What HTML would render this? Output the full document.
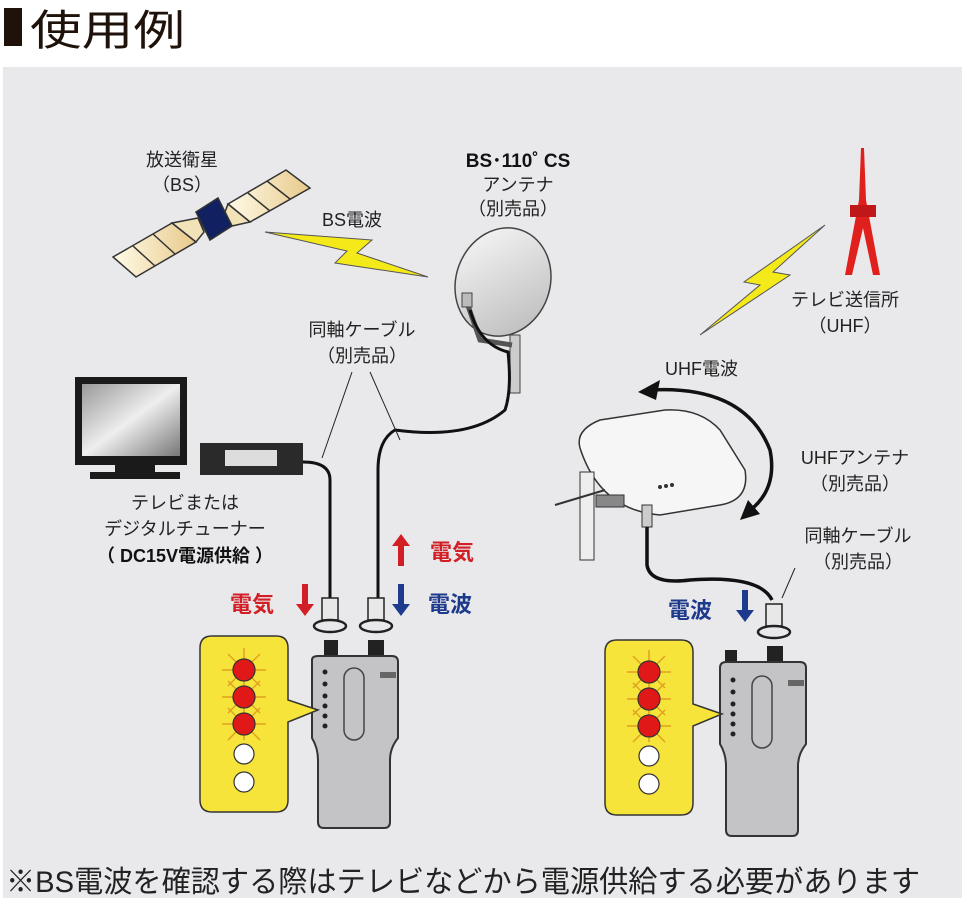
<!DOCTYPE html>
<html><head><meta charset="utf-8"><style>
html,body{margin:0;padding:0;background:#fff;}
svg{display:block;font-family:"Liberation Sans","Noto Sans CJK JP",sans-serif;}
</style></head><body>
<svg width="965" height="900" viewBox="0 0 965 900" xmlns="http://www.w3.org/2000/svg">
<defs>
<linearGradient id="pg" x1="0" y1="0" x2="1" y2="0"><stop offset="0" stop-color="#fffbe8"/><stop offset="1" stop-color="#e8c98a"/></linearGradient>
<linearGradient id="dg" x1="0" y1="0" x2="1" y2="1"><stop offset="0" stop-color="#fafafa"/><stop offset="1" stop-color="#b8b8b8"/></linearGradient>
<linearGradient id="tvg" x1="0" y1="0" x2="1" y2="1"><stop offset="0" stop-color="#999"/><stop offset="0.5" stop-color="#eee"/><stop offset="1" stop-color="#777"/></linearGradient>
</defs>
<rect x="4" y="8" width="18" height="38" fill="#1e120a"/>
<text x="30" y="45" font-size="42" textLength="155" lengthAdjust="spacingAndGlyphs" fill="#1e120a">使用例</text>
<rect x="3" y="67" width="959" height="831" fill="#e9e9ec"/>

<!-- satellite -->
<text x="182" y="166" font-size="18" text-anchor="middle" fill="#222">放送衛星</text>
<text x="182" y="191" font-size="18" text-anchor="middle" fill="#222">（BS）</text>
<g stroke="#333" stroke-width="1.5">
<polygon points="113,257 172,223 196,242 136,277" fill="url(#pg)"/>
<line x1="133" y1="246" x2="155" y2="266" /><line x1="153" y1="234" x2="175" y2="254"/>
<polygon points="228,204 286,170 310,188 250,222" fill="url(#pg)"/>
<line x1="248" y1="193" x2="270" y2="211"/><line x1="267" y1="181" x2="290" y2="199"/>
<polygon points="172,223 198,218 204,232 196,242" fill="#f2e2b8"/>
<polygon points="225,212 228,204 250,222 232,226" fill="#f2e2b8"/>
<polygon points="196,212 218,198 232,226 210,240" fill="#102060"/>
</g>
<text x="322" y="226" font-size="18" fill="#222">BS電波</text>
<polygon points="265,232 372,240 357,253 428,277 335,263 347,251" fill="#f4ea1a" stroke="#555" stroke-width="1"/>

<!-- dish -->
<text x="518" y="167" font-size="19" font-weight="bold" text-anchor="middle" fill="#111">BS･110˚ CS</text>
<text x="518" y="191" font-size="18" text-anchor="middle" fill="#222">アンテナ</text>
<text x="513" y="215" font-size="18" text-anchor="middle" fill="#222">（別売品）</text>
<ellipse cx="503" cy="282" rx="47" ry="55" transform="rotate(20 503 282)" fill="url(#dg)" stroke="#444" stroke-width="1.5"/>
<rect x="510" y="335" width="10" height="58" fill="#ccc" stroke="#444"/>
<path d="M466,300 L480,340 L512,345" stroke="#555" stroke-width="5" fill="none"/>
<rect x="462" y="293" width="10" height="14" fill="#bbb" stroke="#444"/>
<path d="M470,310 Q480,345 508,352 Q512,390 505,410 Q470,440 395,430 Q378,440 378,470 L378,600" stroke="#111" stroke-width="3" fill="none"/>

<!-- TV and tuner -->
<rect x="75" y="377" width="112" height="88" fill="#1a1a1a"/>
<rect x="82" y="384" width="98" height="72" fill="url(#tvg)"/>
<rect x="115" y="465" width="40" height="8" fill="#1a1a1a"/>
<rect x="90" y="472" width="90" height="7" fill="#1a1a1a"/>
<rect x="200" y="443" width="103" height="32" fill="#2a2a2a"/>
<rect x="225" y="450" width="52" height="16" fill="#ddd"/>
<path d="M303,462 Q330,462 330,480 L330,600" stroke="#111" stroke-width="3" fill="none"/>
<text x="185" y="509" font-size="18" text-anchor="middle" fill="#222">テレビまたは</text>
<text x="185" y="535" font-size="18" text-anchor="middle" fill="#222">デジタルチューナー</text>
<text x="185" y="562" font-size="18" font-weight="bold" text-anchor="middle" fill="#111">（ DC15V電源供給 ）</text>

<text x="362" y="336" font-size="18" text-anchor="middle" fill="#222">同軸ケーブル</text>
<text x="362" y="362" font-size="18" text-anchor="middle" fill="#222">（別売品）</text>
<path d="M352,372 L322,458 M370,372 L400,440" stroke="#222" stroke-width="1"/>

<!-- arrows and labels left -->
<text x="430" y="560" font-size="22" font-weight="bold" fill="#d21f26">電気</text>
<polygon points="401,534 410,546 404,546 404,566 398,566 398,546 392,546" fill="#d21f26"/>
<text x="428" y="612" font-size="22" font-weight="bold" fill="#1e3a8c">電波</text>
<polygon points="401,616 410,604 404,604 404,584 398,584 398,604 392,604" fill="#1e3a8c"/>
<text x="230" y="612" font-size="22" font-weight="bold" fill="#d21f26">電気</text>
<polygon points="305,616 314,604 308,604 308,584 302,584 302,604 296,604" fill="#d21f26"/>

<!-- left connectors -->
<g stroke="#222" stroke-width="1.5" fill="#e8e8e8">
<rect x="322" y="598" width="16" height="22"/><rect x="368" y="598" width="16" height="22"/>
</g>
<g stroke="#222" stroke-width="2.5" fill="none">
<ellipse cx="330" cy="626" rx="16" ry="6"/><ellipse cx="376" cy="626" rx="16" ry="6"/>
</g>
<rect x="324" y="640" width="14" height="18" fill="#222"/>
<rect x="368" y="640" width="16" height="18" fill="#222"/>

<!-- left device -->
<path d="M312,660 Q312,656 318,656 L392,656 Q398,656 398,662 L398,738 Q390,748 390,760 L390,822 Q390,828 384,828 L324,828 Q318,828 318,822 L318,760 Q318,748 312,738 Z" fill="#c4c4c6" stroke="#333" stroke-width="2"/>
<rect x="344" y="668" width="20" height="72" rx="10" fill="none" stroke="#444" stroke-width="1.5"/>
<g fill="#222"><circle cx="325" cy="672" r="2.5"/><circle cx="325" cy="684" r="2.5"/><circle cx="325" cy="696" r="2.5"/><circle cx="325" cy="706" r="2.5"/><circle cx="325" cy="716" r="2.5"/><circle cx="325" cy="726" r="2.5"/></g>
<rect x="380" y="672" width="16" height="6" fill="#666"/>
<path d="M200,648 Q200,636 212,636 L276,636 Q288,636 288,648 L288,700 L318,710 L288,722 L288,800 Q288,812 276,812 L212,812 Q200,812 200,800 Z" fill="#f6e43a" stroke="#333" stroke-width="1.5"/>
<g stroke="#e0a020" stroke-width="1.5">
<line x1="222" y1="670" x2="266" y2="670"/><line x1="244" y1="648" x2="244" y2="740"/>
<line x1="228" y1="654" x2="260" y2="686"/><line x1="260" y1="654" x2="228" y2="686"/>
<line x1="222" y1="697" x2="266" y2="697"/><line x1="228" y1="681" x2="260" y2="713"/><line x1="260" y1="681" x2="228" y2="713"/>
<line x1="222" y1="724" x2="266" y2="724"/><line x1="228" y1="708" x2="260" y2="740"/><line x1="260" y1="708" x2="228" y2="740"/>
</g>
<g stroke="#333" stroke-width="1.2">
<circle cx="244" cy="670" r="11" fill="#e01818"/><circle cx="244" cy="697" r="11" fill="#e01818"/><circle cx="244" cy="724" r="11" fill="#e01818"/>
<circle cx="244" cy="754" r="10" fill="#fff"/><circle cx="244" cy="782" r="10" fill="#fff"/>
</g>

<!-- tower -->
<polygon points="861,148 864,148 866,200 880,275 873,275 863,228 852,275 845,275 859,200" fill="#e0201c"/>
<rect x="850" y="205" width="26" height="12" fill="#c01818"/>
<text x="845" y="306" font-size="18" text-anchor="middle" fill="#222">テレビ送信所</text>
<text x="845" y="332" font-size="18" text-anchor="middle" fill="#222">（UHF）</text>
<polygon points="825,225 773,272 790,275 700,335 760,285 744,282" fill="#f4ea1a" stroke="#555" stroke-width="1"/>

<text x="665" y="375" font-size="18" fill="#222">UHF電波</text>
<path d="M650,390 Q745,385 770,450 Q778,490 748,512" stroke="#111" stroke-width="3.5" fill="none"/>
<polygon points="638,392 660,380 656,400" fill="#111"/>
<polygon points="740,520 748,500 760,514" fill="#111"/>

<!-- UHF antenna -->
<path d="M580,448 Q575,430 600,420 L665,410 Q700,408 720,430 L745,470 Q750,500 720,505 L660,515 Q600,510 580,448 Z" fill="#f6f6f6" stroke="#333" stroke-width="1.5"/>
<g fill="#333"><circle cx="660" cy="487" r="2"/><circle cx="666" cy="486" r="2"/><circle cx="672" cy="485" r="2"/></g>
<rect x="580" y="472" width="14" height="88" fill="#eee" stroke="#333"/>
<rect x="596" y="495" width="28" height="12" fill="#888" stroke="#333"/>
<line x1="555" y1="505" x2="605" y2="490" stroke="#333" stroke-width="2"/>
<rect x="642" y="505" width="10" height="22" fill="#ccc" stroke="#333"/>
<path d="M647,527 L647,565 Q650,585 690,580 Q760,575 772,600" stroke="#111" stroke-width="3.5" fill="none"/>
<text x="855" y="464" font-size="18" text-anchor="middle" fill="#222">UHFアンテナ</text>
<text x="855" y="490" font-size="18" text-anchor="middle" fill="#222">（別売品）</text>
<text x="858" y="542" font-size="18" text-anchor="middle" fill="#222">同軸ケーブル</text>
<text x="858" y="568" font-size="18" text-anchor="middle" fill="#222">（別売品）</text>
<line x1="795" y1="568" x2="782" y2="598" stroke="#222" stroke-width="1"/>
<text x="668" y="618" font-size="22" font-weight="bold" fill="#1e3a8c">電波</text>
<polygon points="745,622 754,610 748,610 748,590 742,590 742,610 736,610" fill="#1e3a8c"/>

<!-- right connector/device -->
<rect x="766" y="604" width="16" height="22" fill="#e8e8e8" stroke="#222" stroke-width="1.5"/>
<ellipse cx="774" cy="632" rx="16" ry="6" fill="none" stroke="#222" stroke-width="2.5"/>
<rect x="767" y="646" width="16" height="18" fill="#222"/>
<rect x="725" y="650" width="12" height="14" fill="#222"/>
<path d="M720,668 Q720,662 726,662 L800,662 Q806,662 806,668 L806,744 Q798,754 798,766 L798,830 Q798,836 792,836 L732,836 Q726,836 726,830 L726,766 Q726,754 720,744 Z" fill="#c4c4c6" stroke="#333" stroke-width="2"/>
<rect x="752" y="676" width="20" height="72" rx="10" fill="none" stroke="#444" stroke-width="1.5"/>
<g fill="#222"><circle cx="733" cy="680" r="2.5"/><circle cx="733" cy="692" r="2.5"/><circle cx="733" cy="704" r="2.5"/><circle cx="733" cy="714" r="2.5"/><circle cx="733" cy="724" r="2.5"/><circle cx="733" cy="734" r="2.5"/></g>
<rect x="788" y="680" width="16" height="6" fill="#666"/>
<path d="M605,652 Q605,640 617,640 L681,640 Q693,640 693,652 L693,704 L722,714 L693,726 L693,803 Q693,815 681,815 L617,815 Q605,815 605,803 Z" fill="#f6e43a" stroke="#333" stroke-width="1.5"/>
<g stroke="#e0a020" stroke-width="1.5">
<line x1="627" y1="672" x2="671" y2="672"/><line x1="649" y1="650" x2="649" y2="742"/>
<line x1="633" y1="656" x2="665" y2="688"/><line x1="665" y1="656" x2="633" y2="688"/>
<line x1="627" y1="699" x2="671" y2="699"/><line x1="633" y1="683" x2="665" y2="715"/><line x1="665" y1="683" x2="633" y2="715"/>
<line x1="627" y1="726" x2="671" y2="726"/><line x1="633" y1="710" x2="665" y2="742"/><line x1="665" y1="710" x2="633" y2="742"/>
</g>
<g stroke="#333" stroke-width="1.2">
<circle cx="649" cy="672" r="11" fill="#e01818"/><circle cx="649" cy="699" r="11" fill="#e01818"/><circle cx="649" cy="726" r="11" fill="#e01818"/>
<circle cx="649" cy="756" r="10" fill="#fff"/><circle cx="649" cy="784" r="10" fill="#fff"/>
</g>

<text x="6" y="892" font-size="30" textLength="914" lengthAdjust="spacingAndGlyphs" fill="#222">※BS電波を確認する際はテレビなどから電源供給する必要があります</text>
</svg>
</body></html>
